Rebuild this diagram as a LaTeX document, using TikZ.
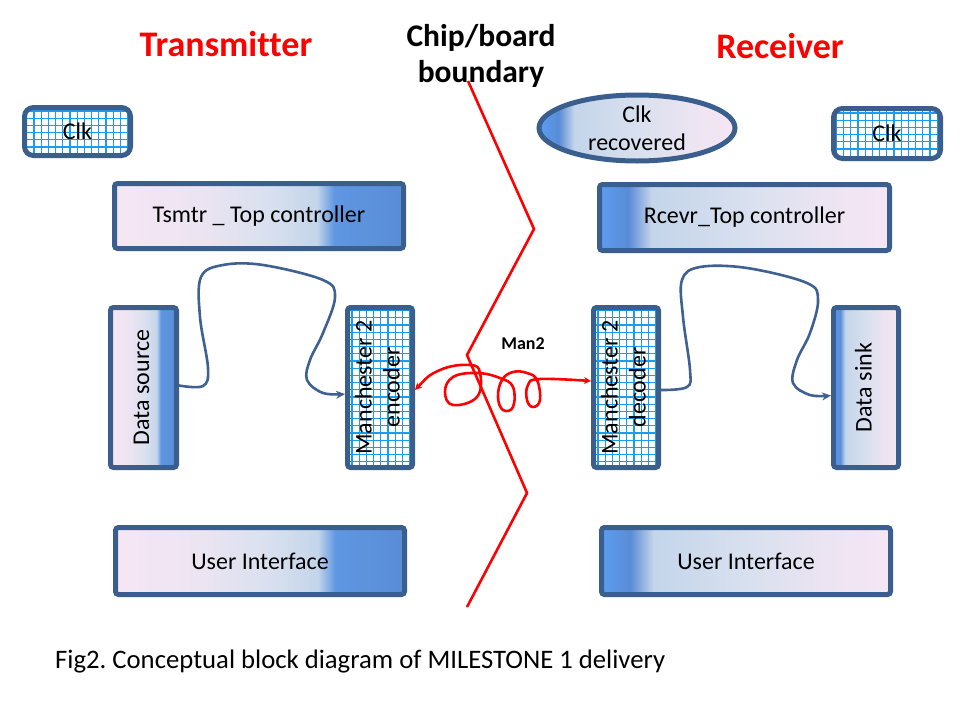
\documentclass[tikz,border=0pt]{standalone}
\usepackage{fontspec}
\setmainfont{Carlito}[Ligatures=NoCommon]
\usetikzlibrary{arrows.meta,shapes.geometric}
\definecolor{bordc}{HTML}{3A5F8E}
\definecolor{pk}{HTML}{F6E6F4}
\definecolor{pk2}{HTML}{ECE4F2}
\definecolor{lb1}{HTML}{D8E0EF}
\definecolor{lb2}{HTML}{C4D5EA}
\definecolor{bl1}{HTML}{5F97E2}
\definecolor{bl2}{HTML}{5A8CD6}
\definecolor{bl3}{HTML}{5C9DF2}
\definecolor{gridc}{HTML}{1A9CF0}
\definecolor{conn}{HTML}{3F6191}
\definecolor{redc}{HTML}{FF0000}
\pgfdeclarehorizontalshading{txshade}{100bp}{color(0bp)=(pk); color(25bp)=(pk); color(40bp)=(pk2); color(52bp)=(lb1); color(60bp)=(lb2); color(63bp)=(bl1); color(75bp)=(bl2); color(100bp)=(bl2)}
\pgfdeclarehorizontalshading{rxshade}{100bp}{color(0bp)=(bl3); color(25bp)=(bl3); color(30bp)=(bl2); color(34bp)=(lb2); color(50bp)=(lb1); color(64bp)=(pk2); color(75bp)=(pk); color(100bp)=(pk)}
\tikzset{
  blk/.style={draw=bordc, line width=5pt, rounded corners=3pt, inner sep=0pt, align=center,
    font=\fontsize{24}{28}\selectfont},
  txb/.style={blk, shade, shading=txshade},
  rxb/.style={blk, shade, shading=rxshade},
  gridb/.style={blk, fill=white, path picture={\draw[gridc, line width=1.2pt]
    (path picture bounding box.south west) grid[step=7.2pt] (path picture bounding box.north east);}},
  conn/.style={draw=conn, line width=2.6pt, -{Stealth[length=9pt,width=8pt]}},
  redl/.style={draw=redc, line width=2.6pt},
}
\newcommand{\vtext}[1]{\rotatebox{90}{\begin{tabular}{@{}c@{}}#1\end{tabular}}}
\begin{document}
\begin{tikzpicture}[x=1pt,y=-1pt]
\useasboundingbox (0,0) rectangle (960,720);
% titles
\node[text=redc, font=\fontsize{36}{36}\bfseries\selectfont] (ttx) at (226,44) {Transmitter};
\node[text=redc, font=\fontsize{36}{36}\bfseries\selectfont] (trx) at (780,46) {Receiver};
\node[align=center, font=\fontsize{31.5}{36}\bfseries\selectfont] (tcb) at (481,56) {Chip/board\\boundary};
% boundary line
\draw[redl] (468,81) -- (534,229) -- (467,355) -- (527,493) -- (467,607);
% transmitter side
\node[gridb, rounded corners=9pt, minimum width=106pt, minimum height=48pt] (clkl) at (77.5,131.5) {Clk};
\node[txb, minimum width=289pt, minimum height=65pt] (tctl) at (259,216) {Tsmtr \_ Top controller};
\node[txb, minimum width=66pt, minimum height=160pt] (dsrc) at (143.5,387.5) {\vtext{Data source}};
\node[gridb, minimum width=65pt, minimum height=160pt] (enc) at (380,387.5) {\vtext{Manchester 2\\encoder}};
\node[txb, minimum width=289pt, minimum height=67pt] (uil) at (260,561) {User Interface};
% receiver side
\node[ellipse, draw=bordc, line width=5pt, shade, shading=rxshade, minimum width=196pt, minimum height=66pt,
  inner sep=0pt, align=center, font=\fontsize{24}{28}\selectfont] (clkr) at (637,128) {Clk\\recovered};
\node[gridb, rounded corners=9pt, minimum width=107pt, minimum height=50pt] (clkrx) at (887,133.5) {Clk};
\node[rxb, minimum width=290pt, minimum height=66pt] (rctl) at (744.5,217.5) {Rcevr\_Top controller};
\node[gridb, minimum width=65pt, minimum height=160pt] (dec) at (626,387.5) {\vtext{Manchester 2\\decoder}};
\node[rxb, minimum width=65pt, minimum height=160pt] (sink) at (866,387.5) {\vtext{Data sink}};
\node[rxb, minimum width=289pt, minimum height=67pt] (uir) at (746,561) {User Interface};
% connectors
\draw[conn] plot[smooth, tension=0.6] coordinates {([yshift=2pt]dsrc.east) (203,386) (208,368) (200,317) (201,277) (223,265) (263,265) (323,280) (335,297) (323,333) (310,360) (307,380) (323,393) ([yshift=-6.5pt]enc.west)};
\draw[conn] plot[smooth, tension=0.6] coordinates {([yshift=-2.5pt]dec.east) (687,387) (690,370) (683,317) (682,280) (700,267) (747,268) (807,283) (818,300) (810,333) (797,360) (793,383) (810,395) ([yshift=-8pt]sink.west)};
\draw[redl, {Stealth[length=7pt,width=7pt]}-{Stealth[length=7pt,width=7pt]}] plot[smooth, tension=0.7] coordinates {([yshift=-2.5pt]enc.east) (440,370) (470,365) (480,373) (477,397) (453,405) (445,392) (453,377) (477,373) (500,378) (513,387) (513,407) (503,410) (498,397) (502,380) (513,372) (527,373) (537,380) (540,400) (533,407) (527,400) (528,385) (540,379) ([yshift=6.5pt]dec.west)};
\node[font=\fontsize{18}{18}\bfseries\selectfont] (man) at (523,344) {Man2};
% caption
\node[anchor=west, font=\fontsize{26.7}{26.7}\selectfont, inner sep=0pt] (cap) at (55,662) {\frenchspacing Fig2. Conceptual block diagram of MILESTONE 1 delivery};
\end{tikzpicture}
\end{document}
